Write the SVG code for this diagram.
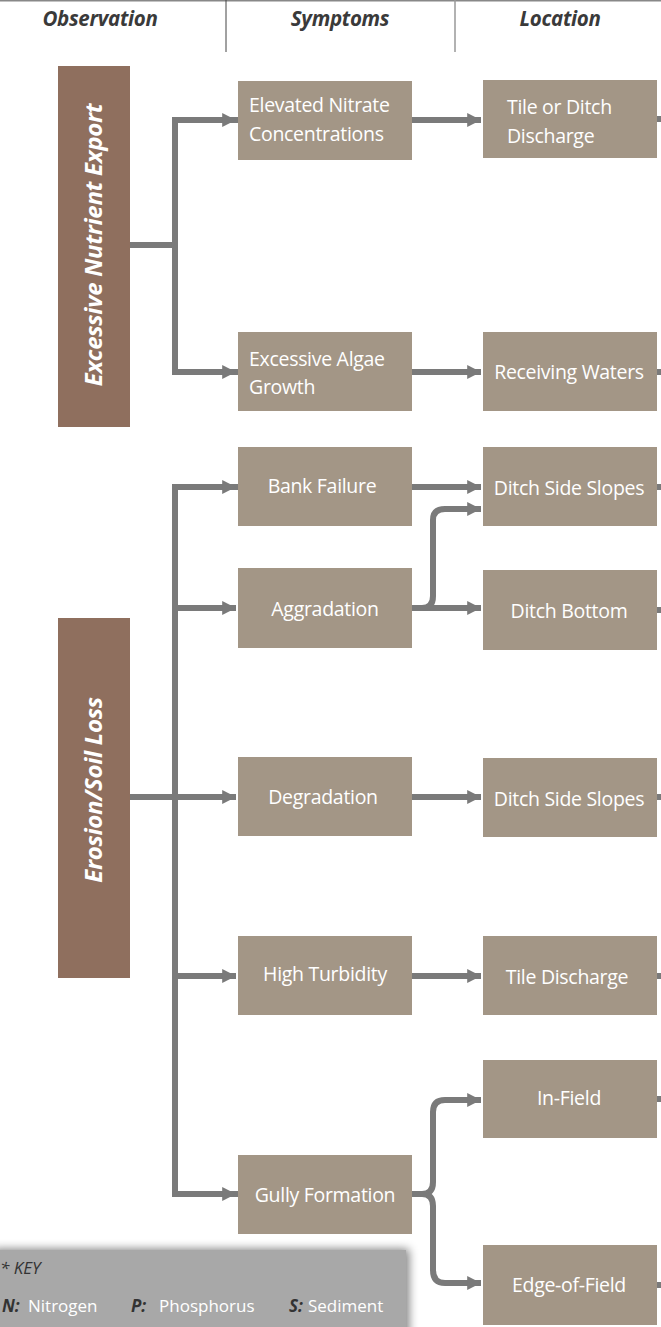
<svg xmlns="http://www.w3.org/2000/svg" width="661" height="1327" viewBox="0 0 661 1327">
<defs>
<style>
.hdr{font-family:"Open Sans","Liberation Sans",sans-serif;font-weight:bold;font-style:italic;font-size:20.5px;fill:#3a3a3a;text-anchor:middle;letter-spacing:-0.3px}
.obs{fill:#8f6f5e}
.box{fill:#a39686}
.obt{font-family:"Open Sans","Liberation Sans",sans-serif;font-weight:bold;font-style:italic;font-size:24px;fill:#ffffff;text-anchor:middle;letter-spacing:-0.3px}
.t{font-family:"Open Sans","Liberation Sans",sans-serif;font-size:19.5px;fill:#ffffff;letter-spacing:-0.3px}
.c{text-anchor:middle}
.ln{fill:none;stroke:#7a7a7a;stroke-width:6}
.key{font-family:"Open Sans","Liberation Sans",sans-serif;font-size:17px}
.kb{fill:#333333;font-weight:bold;font-style:italic}
.kw{fill:#ffffff}
</style>
<marker id="ah" viewBox="0 0 10 10" refX="10" refY="5" markerWidth="2.3" markerHeight="2.6" markerUnits="strokeWidth" orient="auto">
<path d="M0,0 L10,5 L0,10 Z" fill="#7a7a7a"/>
</marker>
<filter id="sh" x="-10%" y="-30%" width="130%" height="160%">
<feGaussianBlur in="SourceAlpha" stdDeviation="5"/>
<feOffset dx="3" dy="-1" result="b"/>
<feComponentTransfer><feFuncA type="linear" slope="0.5"/></feComponentTransfer>
<feMerge><feMergeNode/><feMergeNode in="SourceGraphic"/></feMerge>
</filter>
</defs>
<rect width="661" height="1327" fill="#ffffff"/>
<g id="header">
<line x1="0" y1="0.5" x2="661" y2="0.5" stroke="#888" stroke-width="2"/>
<line x1="226" y1="0" x2="226" y2="52" stroke="#444" stroke-width="1"/>
<line x1="455" y1="0" x2="455" y2="52" stroke="#999" stroke-width="1.5"/>
<text class="hdr" x="100" y="26">Observation</text>
<text class="hdr" x="340" y="26">Symptoms</text>
<text class="hdr" x="560" y="26">Location</text>
</g>
<g id="connectors">
<path class="ln" d="M130,245 H175"/>
<path class="ln" d="M238,120 H175 V372 H238"/>
<path class="ln" d="M175,120 H236" marker-end="url(#ah)"/>
<path class="ln" d="M175,372 H236" marker-end="url(#ah)"/>
<path class="ln" d="M412,120 H481" marker-end="url(#ah)"/>
<path class="ln" d="M412,372 H481" marker-end="url(#ah)"/>
<path class="ln" d="M238,487 H175 V1194 H238"/>
<path class="ln" d="M175,487 H236" marker-end="url(#ah)"/>
<path class="ln" d="M175,608 H236" marker-end="url(#ah)"/>
<path class="ln" d="M130,797 H236" marker-end="url(#ah)"/>
<path class="ln" d="M175,976 H236" marker-end="url(#ah)"/>
<path class="ln" d="M175,1194 H236" marker-end="url(#ah)"/>
<path class="ln" d="M412,487 H481" marker-end="url(#ah)"/>
<path class="ln" d="M412,608 H481" marker-end="url(#ah)"/>
<path class="ln" d="M412,608 H422 Q433,608 433,596 V520 Q433,509 445,509 H481" marker-end="url(#ah)"/>
<path class="ln" d="M412,797 H481" marker-end="url(#ah)"/>
<path class="ln" d="M412,976 H481" marker-end="url(#ah)"/>
<path class="ln" d="M412,1194 H422 Q433,1194 433,1182 V1112 Q433,1100 445,1100 H481" marker-end="url(#ah)"/>
<path class="ln" d="M412,1194 H422 Q433,1194 433,1206 V1270 Q433,1283 445,1283 H481" marker-end="url(#ah)"/>
<path class="ln" d="M657,119 H661 M657,372 H661 M657,487 H661 M657,610 H661 M657,797 H661 M657,976 H661 M657,1099 H661 M657,1285 H661"/>
</g>
<g id="obs-nutrient">
<rect class="obs" x="58" y="66" width="72" height="361"/>
<text class="obt" transform="translate(102,245) rotate(-90)">Excessive Nutrient Export</text>
</g>
<g id="obs-erosion">
<rect class="obs" x="58" y="618" width="72" height="360"/>
<text class="obt" transform="translate(102,790) rotate(-90)">Erosion/Soil Loss</text>
</g>
<g id="sym-nitrate">
<rect class="box" x="238" y="81" width="174" height="79"/>
<text class="t" x="249" y="112">Elevated Nitrate</text>
<text class="t" x="249" y="141">Concentrations</text>
</g>
<g id="loc-tile-ditch">
<rect class="box" x="483" y="80" width="174" height="78"/>
<text class="t" x="507" y="114">Tile or Ditch</text>
<text class="t" x="507" y="143">Discharge</text>
</g>
<g id="sym-algae">
<rect class="box" x="238" y="332" width="174" height="79"/>
<text class="t" x="249" y="366">Excessive Algae</text>
<text class="t" x="249" y="394">Growth</text>
</g>
<g id="loc-receiving">
<rect class="box" x="483" y="332" width="174" height="79"/>
<text class="t c" x="569" y="379">Receiving Waters</text>
</g>
<g id="sym-bank">
<rect class="box" x="238" y="447" width="174" height="79"/>
<text class="t c" x="322" y="493">Bank Failure</text>
</g>
<g id="loc-side1">
<rect class="box" x="483" y="447" width="174" height="79"/>
<text class="t c" x="569" y="495">Ditch Side Slopes</text>
</g>
<g id="sym-aggradation">
<rect class="box" x="238" y="568" width="174" height="80"/>
<text class="t c" x="325" y="616">Aggradation</text>
</g>
<g id="loc-bottom">
<rect class="box" x="483" y="570" width="174" height="80"/>
<text class="t c" x="569" y="618">Ditch Bottom</text>
</g>
<g id="sym-degradation">
<rect class="box" x="238" y="757" width="174" height="79"/>
<text class="t c" x="323" y="804">Degradation</text>
</g>
<g id="loc-side2">
<rect class="box" x="483" y="758" width="174" height="79"/>
<text class="t c" x="569" y="806">Ditch Side Slopes</text>
</g>
<g id="sym-turbidity">
<rect class="box" x="238" y="936" width="174" height="79"/>
<text class="t c" x="325" y="981">High Turbidity</text>
</g>
<g id="loc-tile">
<rect class="box" x="483" y="936" width="174" height="79"/>
<text class="t c" x="567" y="984">Tile Discharge</text>
</g>
<g id="loc-infield">
<rect class="box" x="483" y="1060" width="174" height="78"/>
<text class="t c" x="569" y="1105">In-Field</text>
</g>
<g id="sym-gully">
<rect class="box" x="238" y="1155" width="174" height="79"/>
<text class="t c" x="325" y="1202">Gully Formation</text>
</g>
<g id="loc-edge">
<rect class="box" x="483" y="1245" width="174" height="80"/>
<text class="t c" x="569" y="1292">Edge-of-Field</text>
</g>
<g id="key">
<rect x="-10" y="1250" width="416" height="90" fill="#a8a8a8" filter="url(#sh)"/>
<text class="key" x="0" y="1274" fill="#333" font-style="italic">* KEY</text>
<text class="key" y="1312"><tspan class="kb" x="2">N:</tspan><tspan class="kw" x="28">Nitrogen</tspan><tspan class="kb" x="131">P:</tspan><tspan class="kw" x="159">Phosphorus</tspan><tspan class="kb" x="289">S:</tspan><tspan class="kw" x="308">Sediment</tspan></text>
</g>
</svg>
